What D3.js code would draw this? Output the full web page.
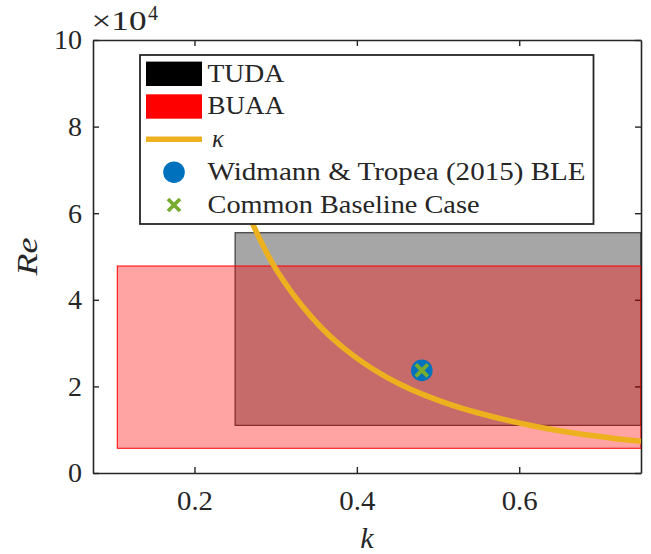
<!DOCTYPE html>
<html>
<head>
<meta charset="utf-8">
<script src="https://cdn.jsdelivr.net/npm/d3@7"></script>
<style>
  html, body { margin: 0; padding: 0; background: #fff; }
  svg { display: block; }
  text { font-family: "Liberation Serif", "Times New Roman", serif; fill: #262626; }
</style>
</head>
<body>
<svg id="chart" width="651" height="554"></svg>
<script>
// Test-range boxes (k range, Re range in units of 1e4)
const facilities = ["TUDA", "BUAA"];
const facilityK = [[0.25, 0.75], [0.105, 0.75]];
const facilityRe = [[1.1, 5.55], [0.57, 4.78]];
const facilityColors = ["#000000", "#ff0000"];
const facilityAlpha = [0.35, 0.36];

// Reduced-frequency curve, Re (x1e4) against k
const kappaK  = [0.25, 0.2725, 0.296, 0.3445, 0.3916, 0.4532, 0.5147, 0.5516, 0.5762, 0.6131, 0.6747, 0.75];
const kappaRe = [6.65, 5.72, 4.76, 3.53, 2.72, 2.0, 1.57, 1.37, 1.26, 1.09, 0.89, 0.73];

// Reference cases
const bleK = [0.48];
const bleRe = [2.37];
const baselineK = [0.48];
const baselineRe = [2.37];

// Axis ticks
const xTicks = [0.2, 0.4, 0.6];
const yTicks = [0, 2, 4, 6, 8, 10];

const legendLabels = ["TUDA", "BUAA", "\u03BA", "Widmann & Tropea (2015) BLE", "Common Baseline Case"];
const legendWidths = [76.7, 76.7, null, 378, 272];

const svg = d3.select("#chart");
const plotL = 93, plotR = 641, plotT = 40, plotB = 473;

const x = d3.scaleLinear().domain([0.075, 0.75]).range([plotL, plotR]);
const y = d3.scaleLinear().domain([0, 10]).range([plotB, plotT]);

const axisColor = "#262626";

// ---- axes (drawn beneath the data) ----
const gx = svg.append("g").attr("transform", `translate(0,${plotB})`)
  .call(d3.axisBottom(x).tickValues(xTicks).tickFormat(d3.format(".1f"))
        .tickSizeInner(-6).tickSizeOuter(0).tickPadding(17));
const gxTop = svg.append("g").attr("transform", `translate(0,${plotT})`)
  .call(d3.axisTop(x).tickValues(xTicks).tickFormat("")
        .tickSizeInner(-6).tickSizeOuter(0));
const gy = svg.append("g").attr("transform", `translate(${plotL},0)`)
  .call(d3.axisLeft(y).tickValues(yTicks).tickFormat(d3.format("d"))
        .tickSizeInner(-6).tickSizeOuter(0).tickPadding(11));
const gyRight = svg.append("g").attr("transform", `translate(${plotR},0)`)
  .call(d3.axisRight(y).tickValues(yTicks).tickFormat("")
        .tickSizeInner(-6).tickSizeOuter(0));

[gx, gxTop, gy, gyRight].forEach(g => {
  g.select(".domain").attr("stroke", axisColor).attr("stroke-width", 1.6);
  g.selectAll(".tick line").attr("stroke", axisColor).attr("stroke-width", 1.4);
  g.selectAll(".tick text").attr("font-size", 28).attr("fill", axisColor);
});
gx.selectAll(".tick text").attr("textLength", 36).attr("lengthAdjust", "spacingAndGlyphs");

// exponent label
svg.append("text").attr("x", 91.5).attr("y", 30).attr("font-size", 28)
  .attr("textLength", 55).attr("lengthAdjust", "spacingAndGlyphs").text("\u00D710");
svg.append("text").attr("x", 148).attr("y", 20).attr("font-size", 20).text("4");

// axis titles
svg.append("text").attr("x", (plotL + plotR) / 2).attr("y", 548)
  .attr("text-anchor", "middle").attr("font-size", 30).attr("font-style", "italic").text("k");
svg.append("text").attr("transform", `translate(37,${(plotT + plotB) / 2}) rotate(-90)`)
  .attr("text-anchor", "middle").attr("font-size", 30).attr("font-style", "italic")
  .attr("textLength", 38).attr("lengthAdjust", "spacingAndGlyphs").text("Re");

// ---- data ----
svg.append("clipPath").attr("id", "plotClip").append("rect")
  .attr("x", plotL).attr("y", plotT).attr("width", plotR - plotL).attr("height", plotB - plotT);
const plot = svg.append("g").attr("clip-path", "url(#plotClip)");

facilities.forEach((name, i) => {
  const k = facilityK[i], re = facilityRe[i];
  plot.append("rect")
    .attr("x", x(k[0])).attr("y", y(re[1]))
    .attr("width", x(k[1]) - x(k[0])).attr("height", y(re[0]) - y(re[1]))
    .attr("fill", facilityColors[i]).attr("fill-opacity", facilityAlpha[i])
    .attr("stroke", facilityColors[i]).attr("stroke-opacity", i === 0 ? 0.7 : 0.85)
    .attr("stroke-width", 1.2);
});

const kappaPts = kappaK.map((k, i) => [k, kappaRe[i]]);
plot.append("path").datum(kappaPts)
  .attr("fill", "none").attr("stroke", "#EDB120").attr("stroke-width", 5.5)
  .attr("d", d3.line().x(d => x(d[0])).y(d => y(d[1])).curve(d3.curveBasis));

plot.selectAll("circle.ble").data(bleK).join("circle").attr("class", "ble")
  .attr("cx", (d, i) => x(d)).attr("cy", (d, i) => y(bleRe[i])).attr("r", 10.8)
  .attr("fill", "#0072BD");

const cross = (g, cx, cy, s) => {
  g.append("path")
    .attr("d", `M${cx - s},${cy - s}L${cx + s},${cy + s}M${cx - s},${cy + s}L${cx + s},${cy - s}`)
    .attr("stroke", "#77AC30").attr("stroke-width", 3.8).attr("fill", "none");
};
baselineK.forEach((k, i) => cross(plot, x(k), y(baselineRe[i]), 6));

// ---- legend ----
const lg = svg.append("g");
lg.append("rect").attr("x", 140).attr("y", 55).attr("width", 453.5).attr("height", 169)
  .attr("fill", "#fff").attr("stroke", axisColor).attr("stroke-width", 1.8);
const rowY = [73.8, 106.5, 139.3, 172.2, 205];
lg.append("rect").attr("x", 146).attr("y", rowY[0] - 12.2).attr("width", 56).attr("height", 24.4).attr("fill", facilityColors[0]);
lg.append("rect").attr("x", 146).attr("y", rowY[1] - 12.2).attr("width", 56).attr("height", 24.4).attr("fill", facilityColors[1]);
lg.append("line").attr("x1", 146).attr("x2", 202).attr("y1", rowY[2]).attr("y2", rowY[2])
  .attr("stroke", "#EDB120").attr("stroke-width", 5.5);
lg.append("circle").attr("cx", 174).attr("cy", rowY[3]).attr("r", 10.8).attr("fill", "#0072BD");
cross(lg, 174, rowY[4], 6);

legendLabels.forEach((lab, i) => {
  const t = lg.append("text").attr("x", i === 2 ? 212 : 207.5).attr("y", rowY[i] + 7.8)
    .attr("font-size", 24.5).text(lab);
  if (i === 2) t.attr("font-style", "italic");
  if (legendWidths[i]) t.attr("textLength", legendWidths[i]).attr("lengthAdjust", "spacingAndGlyphs");
});
</script>
</body>
</html>
